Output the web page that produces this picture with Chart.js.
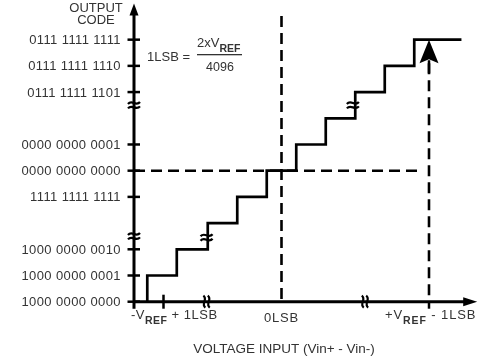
<!DOCTYPE html>
<html>
<head>
<meta charset="utf-8">
<script src="https://cdn.jsdelivr.net/npm/chart.js@4/dist/chart.umd.min.js"></script>
<style>
  html, body { margin: 0; padding: 0; background: #fff; }
  #wrap { width: 502px; height: 364px; }
</style>
</head>
<body>
<div id="wrap"><canvas id="adc" width="502" height="364"></canvas></div>
<script>
// output code levels (ticks on the vertical axis) and their labels
var codeLevels = [0, 1, 2, 4, 5, 6, 8, 9, 10];
var codeLabels = [
    "1000 0000 0000",
    "1000 0000 0001",
    "1000 0000 0010",
    "1111 1111 1111",
    "0000 0000 0000",
    "0000 0000 0001",
    "0111 1111 1101",
    "0111 1111 1110",
    "0111 1111 1111"
];

// input (in LSB steps from -Vref) where the code goes up by one
var stepInputs = [0.45, 1.45, 2.5, 3.5, 4.5, 5.5, 6.5, 7.5, 8.5, 9.5];
var lastInput = 11.1;

// markers on the input axis
var inputTicks = [1, 10];
var zeroInput = 5;
var zeroCode = 5;
var fullScaleInput = 10;
var fullScaleTop = 9.1;
var zeroLineTop = 10.9;
var zeroCodeRight = 9.6;

// axis break marks [input, code]
var axisBreaksY = [2.5, 7.5];
var axisBreaksX = [2.46, 7.83];
var stairBreaks = [[2.46, 2.45], [7.42, 7.5]];

var stairs = [{ x: stepInputs[0], y: 0 }];
stepInputs.forEach(function (v, i) { stairs.push({ x: v, y: i + 1 }); });
stairs.push({ x: lastInput, y: stepInputs.length });

var FONT = "'Liberation Sans', Arial, sans-serif";
var TXT = "#333";

function drawBreak(ctx, px, py, rotate) {
    ctx.save();
    ctx.translate(px, py);
    if (rotate) ctx.rotate(Math.PI / 2);
    ctx.lineWidth = 2.2;
    ctx.strokeStyle = "#000";
    [-2.2, 2.2].forEach(function (dy) {
        ctx.beginPath();
        ctx.moveTo(-6, dy + 1);
        ctx.bezierCurveTo(-2, dy - 4, 2, dy + 4, 6, dy - 1);
        ctx.stroke();
    });
    ctx.restore();
}

// draws text made of normal and subscript parts, returns width
function richText(ctx, parts, px, py, align, spacing) {
    ctx.letterSpacing = (spacing || 0) + "px";
    var w = 0;
    parts.forEach(function (p) {
        ctx.font = p.sub ? "bold 10.5px " + FONT : "13px " + FONT;
        w += ctx.measureText(p.t).width;
    });
    var cx = align === "center" ? px - w / 2 : px;
    ctx.textAlign = "left";
    ctx.textBaseline = "alphabetic";
    parts.forEach(function (p) {
        ctx.font = p.sub ? "bold 10.5px " + FONT : "13px " + FONT;
        ctx.fillText(p.t, cx, p.sub ? py + 5 : py);
        cx += ctx.measureText(p.t).width;
    });
    ctx.letterSpacing = "0px";
    return w;
}

var diagram = {
    id: "diagram",
    afterDatasetsDraw: function (chart) {
        var ctx = chart.ctx, x = chart.scales.x, y = chart.scales.y, area = chart.chartArea;
        var x0 = x.getPixelForValue(0), y0 = y.getPixelForValue(0);
        ctx.save();
        ctx.strokeStyle = "#000";
        ctx.fillStyle = "#000";

        // axes
        ctx.lineWidth = 3;
        ctx.beginPath();
        ctx.moveTo(x0, y0 + 7);
        ctx.lineTo(x0, area.top + 8);
        ctx.moveTo(x0 - 1, y0);
        ctx.lineTo(area.right - 10, y0);
        ctx.stroke();

        // arrow heads
        ctx.beginPath();
        ctx.moveTo(x0, area.top - 2);
        ctx.lineTo(x0 + 4.5, area.top + 10);
        ctx.lineTo(x0 - 4.5, area.top + 10);
        ctx.closePath();
        ctx.fill();
        ctx.beginPath();
        ctx.moveTo(area.right + 1, y0);
        ctx.lineTo(area.right - 13, y0 - 4.5);
        ctx.lineTo(area.right - 13, y0 + 4.5);
        ctx.closePath();
        ctx.fill();

        var fx = x.getPixelForValue(fullScaleInput);
        var ftop = y.getPixelForValue(stepInputs.length);
        var fbase = y.getPixelForValue(fullScaleTop);
        ctx.beginPath();
        ctx.moveTo(fx, ftop);
        ctx.lineTo(fx + 9.5, fbase);
        ctx.lineTo(fx, fbase - 4);
        ctx.lineTo(fx - 9.5, fbase);
        ctx.closePath();
        ctx.fill();
        ctx.lineWidth = 2.5;
        ctx.beginPath();
        ctx.moveTo(fx, fbase - 3);
        ctx.lineTo(fx, fbase + 10);
        ctx.stroke();

        // ticks on the code axis
        ctx.lineWidth = 2.5;
        codeLevels.forEach(function (v) {
            var py = y.getPixelForValue(v);
            ctx.beginPath();
            ctx.moveTo(x0 - 6.5, py);
            ctx.lineTo(x0 + 6, py);
            ctx.stroke();
        });
        // ticks on the input axis
        inputTicks.forEach(function (v) {
            var px = x.getPixelForValue(v);
            ctx.beginPath();
            ctx.moveTo(px, v === fullScaleInput ? y0 : y0 - 7);
            ctx.lineTo(px, y0 + 7);
            ctx.stroke();
        });

        // breaks
        axisBreaksY.forEach(function (v) { drawBreak(ctx, x0, y.getPixelForValue(v), false); });
        axisBreaksX.forEach(function (v) { drawBreak(ctx, x.getPixelForValue(v), y0, true); });
        stairBreaks.forEach(function (b) { drawBreak(ctx, x.getPixelForValue(b[0]), y.getPixelForValue(b[1]), false); });

        // code labels
        ctx.fillStyle = TXT;
        ctx.font = "13px " + FONT;
        ctx.letterSpacing = "0.4px";
        ctx.textAlign = "right";
        ctx.textBaseline = "middle";
        codeLevels.forEach(function (v, i) {
            ctx.fillText(codeLabels[i], x0 - 13, y.getPixelForValue(v) + 1);
        });
        ctx.letterSpacing = "0px";
        ctx.textAlign = "center";
        ctx.textBaseline = "alphabetic";
        ctx.fillText("OUTPUT", 96, 12);
        ctx.fillText("CODE", 96, 24);

        // input labels
        richText(ctx, [{ t: "-V" }, { t: "REF", sub: true }, { t: " + 1LSB" }], x0 - 3, 319, "left", 0.5);
        richText(ctx, [{ t: "0LSB" }], x.getPixelForValue(zeroInput), 322, "center", 0.8);
        richText(ctx, [{ t: "+V" }, { t: "REF", sub: true }, { t: " - 1LSB" }], 385, 319, "left", 0.9);

        ctx.font = "13.5px " + FONT;
        ctx.textAlign = "center";
        ctx.fillText("VOLTAGE INPUT (Vin+ - Vin-)", 284, 353);

        // 1LSB formula
        ctx.font = "13px " + FONT;
        ctx.textAlign = "left";
        ctx.fillText("1LSB =", 147, 61);
        richText(ctx, [{ t: "2xV" }, { t: "REF", sub: true }], 197, 47, "left", 0);
        ctx.fillRect(197, 54, 45, 1.3);
        ctx.font = "12.5px " + FONT;
        ctx.textAlign = "center";
        ctx.fillText("4096", 220, 71);

        ctx.restore();
    }
};

var dash = [11, 6];
var chart = new Chart(document.getElementById("adc").getContext("2d"), {
    type: "scatter",
    data: {
        datasets: [
            {
                data: stairs,
                showLine: true,
                stepped: true,
                borderColor: "#000",
                borderWidth: 2.7,
                pointRadius: 0
            },
            {
                data: [{ x: 0, y: zeroCode }, { x: zeroCodeRight, y: zeroCode }],
                showLine: true,
                borderColor: "#000",
                borderWidth: 2.6,
                borderDash: dash,
                pointRadius: 0
            },
            {
                data: [{ x: zeroInput, y: zeroLineTop }, { x: zeroInput, y: 0 }],
                showLine: true,
                borderColor: "#000",
                borderWidth: 2.6,
                borderDash: dash,
                pointRadius: 0
            },
            {
                data: [{ x: fullScaleInput, y: fullScaleTop }, { x: fullScaleInput, y: 0 }],
                showLine: true,
                borderColor: "#000",
                borderWidth: 2.6,
                borderDash: dash,
                pointRadius: 0
            }
        ]
    },
    options: {
        responsive: false,
        animation: false,
        layout: {
            padding: { left: 134, right: 25.8, top: 5.6, bottom: 62.3 }
        },
        plugins: {
            legend: { display: false },
            tooltip: { enabled: false }
        },
        scales: {
            x: { type: "linear", min: 0, max: 11.6, display: false },
            y: { type: "linear", min: 0, max: 11.3, display: false }
        }
    },
    plugins: [diagram]
});
</script>
</body>
</html>
